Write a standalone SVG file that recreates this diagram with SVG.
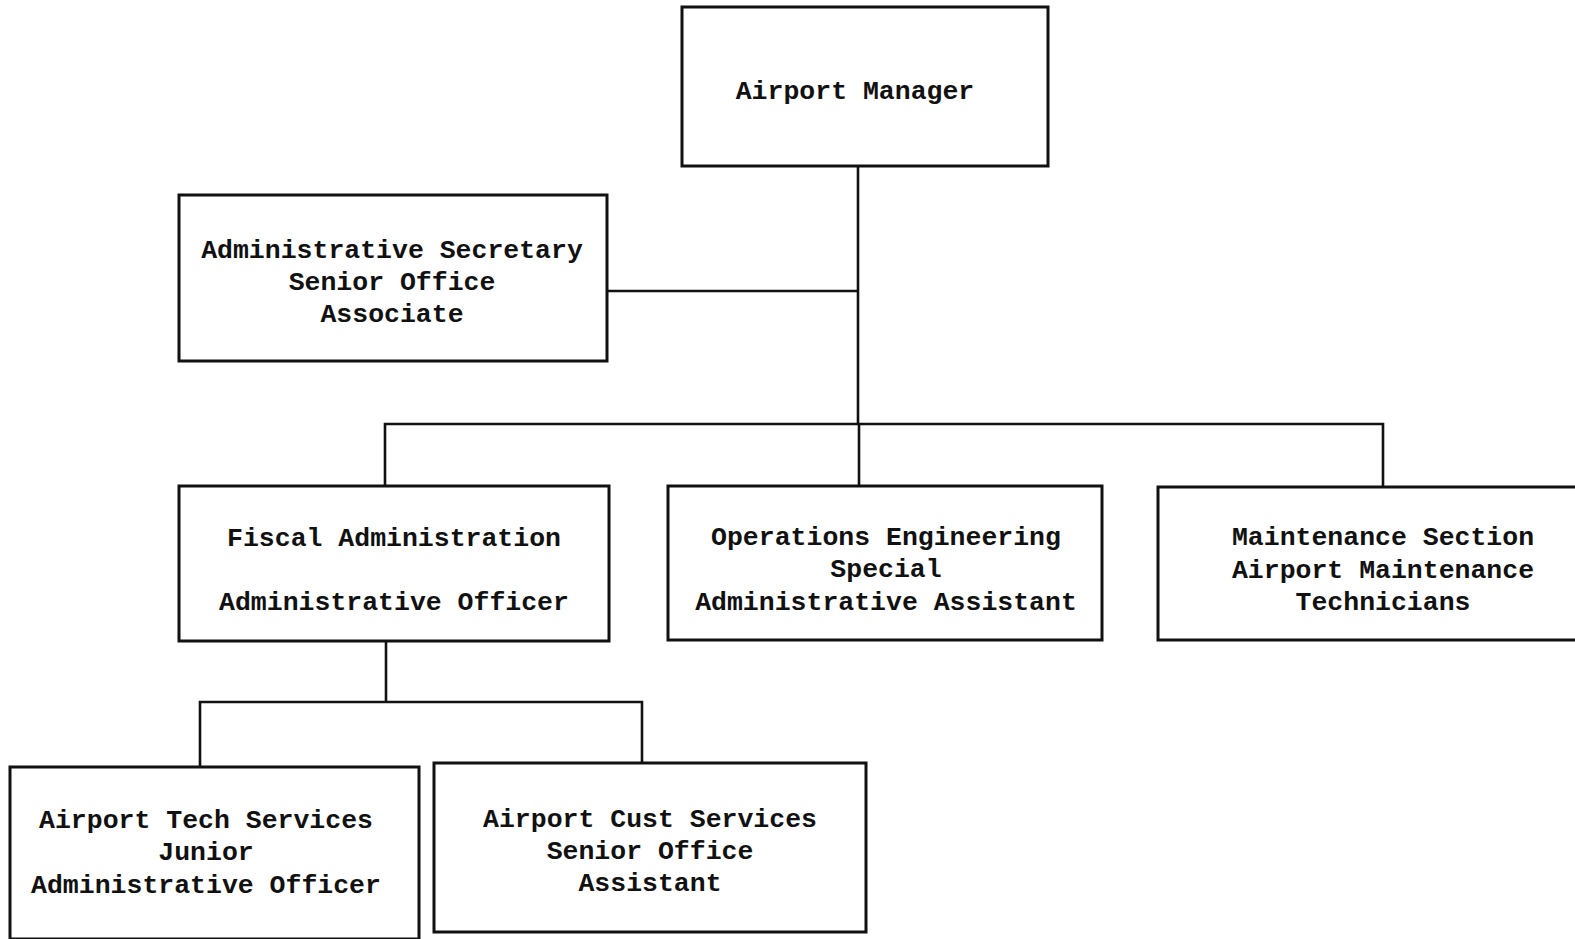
<svg xmlns="http://www.w3.org/2000/svg" width="1575" height="939" viewBox="0 0 1575 939">
<style>
.box{fill:#fff;stroke:#111;stroke-width:3}
.ln{fill:none;stroke:#111;stroke-width:2.6}
text{font-family:"Liberation Mono","Courier New",monospace;font-weight:bold;font-size:26.5px;fill:#111;text-anchor:middle}
</style>
<rect width="1575" height="939" fill="#fff"/>
<g id="connectors">
<path class="ln" d="M858 166 V424"/>
<path class="ln" d="M607 291 H858"/>
<path class="ln" d="M385 486 V424 H1383 V487"/>
<path class="ln" d="M859 424 V486"/>
<path class="ln" d="M386 641 V702"/>
<path class="ln" d="M200 767 V702 H642 V763"/>
</g>
<g id="airport-manager">
<rect class="box" x="682" y="7" width="366" height="159"/>
<text x="855" y="99">Airport Manager</text>
</g>
<g id="admin-secretary">
<rect class="box" x="179" y="195" width="428" height="166"/>
<text x="392" y="258">Administrative Secretary</text>
<text x="392" y="290">Senior Office</text>
<text x="392" y="322">Associate</text>
</g>
<g id="fiscal-administration">
<rect class="box" x="179" y="486" width="430" height="155"/>
<text x="394" y="546">Fiscal Administration</text>
<text x="394" y="610">Administrative Officer</text>
</g>
<g id="operations-engineering">
<rect class="box" x="668" y="486" width="434" height="154"/>
<text x="886" y="545">Operations Engineering</text>
<text x="886" y="577">Special</text>
<text x="886" y="610">Administrative Assistant</text>
</g>
<g id="maintenance-section">
<rect class="box" x="1158" y="487" width="430" height="153"/>
<text x="1383" y="545">Maintenance Section</text>
<text x="1383" y="578">Airport Maintenance</text>
<text x="1383" y="610">Technicians</text>
</g>
<g id="airport-tech-services">
<rect class="box" x="10" y="767" width="409" height="172"/>
<text x="206" y="828">Airport Tech Services</text>
<text x="206" y="860">Junior</text>
<text x="206" y="893">Administrative Officer</text>
</g>
<g id="airport-cust-services">
<rect class="box" x="434" y="763" width="432" height="169"/>
<text x="650" y="827">Airport Cust Services</text>
<text x="650" y="859">Senior Office</text>
<text x="650" y="891">Assistant</text>
</g>
</svg>
